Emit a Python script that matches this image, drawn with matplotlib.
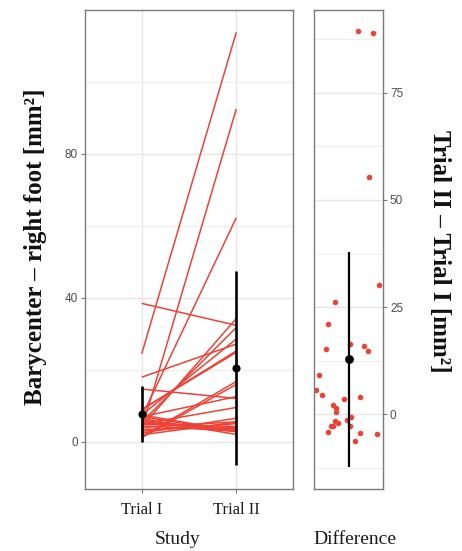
import numpy as np
import matplotlib
matplotlib.use("Agg")
import matplotlib.pyplot as plt
from matplotlib.ticker import FixedLocator

# ---- data ----
categories = ["Trial I", "Trial II"]
trial1 = [24.5, 3.5, 7.0, 4.2, 5.5, 7.5, 9.0, 1.5, 9.0, 1.2, 18.0, 7.0, 5.0, 2.5, 2.0,
          3.0, 4.0, 3.5, 5.0, 5.0, 4.5, 5.5, 14.7, 5.5, 6.0, 7.0, 6.5, 7.5, 38.5]
trial2 = [113.8, 92.5, 62.3, 34.3, 31.8, 28.6, 25.3, 16.8, 24.9, 16.0, 27.2, 12.6, 9.6, 6.6, 5.5,
          5.1, 5.6, 4.1, 3.8, 4.3, 3.0, 3.5, 12.1, 2.9, 3.2, 2.9, 2.1, 3.0, 32.4]
# horizontal jitter of the difference points
jitter = [0.16, 0.43, 0.35, 0.53, -0.24, -0.36, 0.03, -0.39, 0.27, 0.34, -0.51, -0.56, -0.46,
          0.20, -0.07, -0.27, -0.21, -0.21, -0.02, 0.05, -0.24, -0.18, -0.27, 0.02, -0.30,
          -0.36, 0.20, 0.49, 0.12]
left_yticks = [0, 40, 80]
right_yticks = [0, 25, 50, 75]

t1 = np.array(trial1)
t2 = np.array(trial2)
diff = t2 - t1

RED = "#EC4336"
GRID = "#e6e6e6"
BORDER = "#7a7a7a"
TICKC = "#4d4d4d"
SERIF = ["Liberation Serif", "DejaVu Serif"]
SANS = ["Liberation Sans", "DejaVu Sans"]
plt.rcParams["font.family"] = SANS

W, H = 462, 551
fig = plt.figure(figsize=(W / 100, H / 100), dpi=100)

def rect(x0, y0, x1, y1):
    return [x0 / W, 1 - y1 / H, (x1 - x0) / W, (y1 - y0) / H]

ax1 = fig.add_axes(rect(85, 10, 293, 489))
ax2 = fig.add_axes(rect(314, 10, 383, 489))

for ax in (ax1, ax2):
    ax.set_facecolor("white")
    for s in ax.spines.values():
        s.set_color(BORDER)
        s.set_linewidth(1.0)
    ax.set_axisbelow(True)

# ---- left panel ----
xpos = np.arange(1, len(categories) + 1)
for a, b in zip(t1, t2):
    ax1.plot(xpos, [a, b], color=RED, lw=1.1, zorder=2, solid_capstyle="butt")
for xp, vals in zip(xpos, (t1, t2)):
    m, s = vals.mean(), vals.std(ddof=1)
    ax1.plot([xp, xp], [m - s, m + s], color="black", lw=1.9, zorder=3, solid_capstyle="butt")
    ax1.scatter([xp], [m], s=34, color="black", zorder=4, linewidths=0)

ax1.set_xlim(0.4, 2.6)
ax1.set_ylim(-13.06, 120)
ax1.yaxis.set_major_locator(FixedLocator(left_yticks))
ax1.yaxis.set_minor_locator(FixedLocator([20, 60, 100]))
ax1.set_xticks(xpos)
ax1.set_xticklabels(categories, family=SERIF, fontsize=12, color="#1a1a1a")
ax1.grid(True, which="major", color=GRID, lw=1.0)
ax1.grid(True, which="minor", axis="y", color="#eeeeee", lw=0.7)
ax1.tick_params(axis="y", which="major", length=3, color=BORDER, labelcolor=TICKC,
                labelsize=8.5, pad=2)
ax1.tick_params(axis="y", which="minor", length=0)
ax1.tick_params(axis="x", length=3, color=BORDER, pad=6)

# ---- right panel ----
ax2.scatter(jitter, diff, s=16, color=RED, zorder=2, linewidths=0)
m, s = diff.mean(), diff.std(ddof=1)
ax2.plot([0, 0], [m - s, m + s], color="black", lw=1.6, zorder=3, solid_capstyle="butt")
ax2.scatter([0], [m], s=40, color="black", zorder=4, linewidths=0)
ax2.set_xlim(-0.6, 0.6)
ax2.set_ylim(-17.4, 94.3)
ax2.set_xticks([])
ax2.yaxis.tick_right()
ax2.yaxis.set_major_locator(FixedLocator(right_yticks))
ax2.yaxis.set_minor_locator(FixedLocator([-12.5, 12.5, 37.5, 62.5, 87.5]))
ax2.grid(True, which="major", axis="y", color=GRID, lw=1.0)
ax2.grid(True, which="minor", axis="y", color="#eeeeee", lw=0.7)
ax2.tick_params(axis="y", which="major", length=3, color=BORDER, labelcolor=TICKC,
                labelsize=8.5, pad=2)
ax2.tick_params(axis="y", which="minor", length=0)

# ---- labels ----
fig.text(36 / W, 1 - 247 / H, "Barycenter – right foot [mm²]", rotation=90,
         ha="center", va="center", family=SERIF, fontweight="bold", fontsize=18, color="#111111")
fig.text(439 / W, 1 - 251 / H, "Trial II – Trial I [mm²]", rotation=-90,
         ha="center", va="center", family=SERIF, fontweight="bold", fontsize=18, color="#111111")
fig.text(178 / W, 1 - 539 / H, "Study", ha="center", va="center",
         family=SERIF, fontsize=14, color="#1a1a1a")
fig.text(355 / W, 1 - 539 / H, "Difference", ha="center", va="center",
         family=SERIF, fontsize=14, color="#1a1a1a")

fig.savefig("out.png", dpi=100)
